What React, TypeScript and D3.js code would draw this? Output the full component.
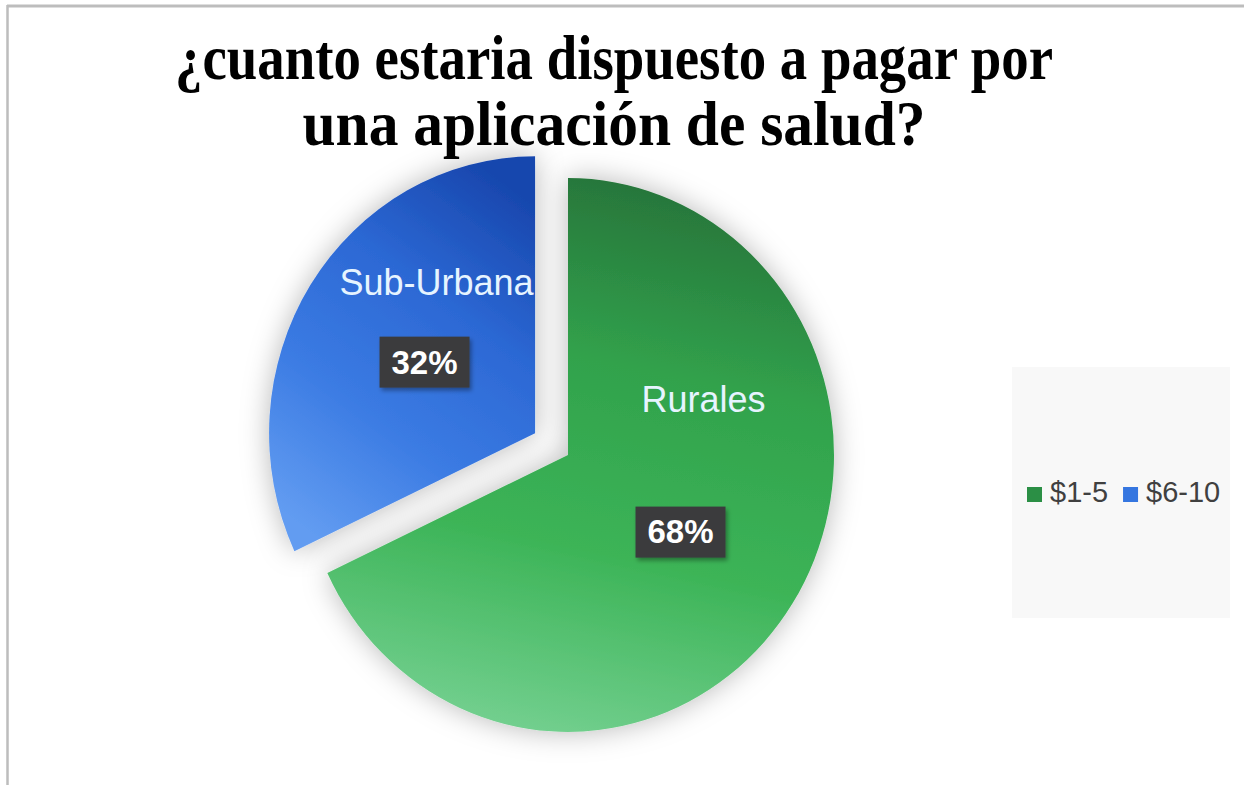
import { useRef, useEffect } from "react";
import * as d3 from "d3";

// chart data
const categories = ["$1-5", "$6-10"];
const values = [68, 32];
const sliceNames = ["Rurales", "Sub-Urbana"];
const titleLines = ["¿cuanto estaria dispuesto a pagar por", "una aplicación de salud?"];

const W = 1244;
const H = 785;

export default function App() {
  const svgRef = useRef<SVGSVGElement>(null);

  useEffect(() => {
    if (!svgRef.current) return;
    const svg = d3.select(svgRef.current);
    svg.selectAll("*").remove();

    const defs = svg.append("defs");

    // gradients per slice
    const grads = [
      { id: "g-green", x1: 0.62, y1: 0, x2: 0.42, y2: 1, stops: ["#27743a", "#31a24c", "#3cb457", "#72cf8e"] },
      { id: "g-blue", x1: 0.75, y1: 0, x2: 0.25, y2: 1, stops: ["#1847ae", "#2c68d4", "#3b7be3", "#629cf1"] },
    ];
    grads.forEach((g) => {
      const lg = defs
        .append("linearGradient")
        .attr("id", g.id)
        .attr("x1", g.x1)
        .attr("y1", g.y1)
        .attr("x2", g.x2)
        .attr("y2", g.y2);
      g.stops.forEach((c, i) =>
        lg.append("stop").attr("offset", i / (g.stops.length - 1)).attr("stop-color", c)
      );
    });

    // soft shadow around the slices
    const f = defs
      .append("filter")
      .attr("id", "soft")
      .attr("x", "-25%")
      .attr("y", "-25%")
      .attr("width", "150%")
      .attr("height", "150%");
    f.append("feGaussianBlur").attr("in", "SourceAlpha").attr("stdDeviation", 14).attr("result", "b");
    f.append("feFlood").attr("flood-color", "#000").attr("flood-opacity", 0.28);
    f.append("feComposite").attr("in2", "b").attr("operator", "in").attr("result", "s");
    const m = f.append("feMerge");
    m.append("feMergeNode").attr("in", "s");
    m.append("feMergeNode").attr("in", "SourceGraphic");

    const fBox = defs.append("filter").attr("id", "boxsh").attr("x", "-20%").attr("y", "-20%").attr("width", "150%").attr("height", "160%");
    fBox.append("feDropShadow").attr("dx", 2).attr("dy", 3).attr("stdDeviation", 2).attr("flood-color", "#000").attr("flood-opacity", 0.35);

    // frame
    svg.append("rect").attr("width", W).attr("height", H).attr("fill", "#fff");
    svg.append("line").attr("x1", 7).attr("x2", W).attr("y1", 6).attr("y2", 6).attr("stroke", "#bdbdbd").attr("stroke-width", 3);
    svg.append("line").attr("x1", 7.5).attr("x2", 7.5).attr("y1", 5).attr("y2", H).attr("stroke", "#bdbdbd").attr("stroke-width", 2.5);

    // title
    const titleWidths = [878, 623];
    svg
      .selectAll("text.title")
      .data(titleLines)
      .join("text")
      .attr("class", "title")
      .attr("x", 614)
      .attr("y", (_, i) => 79 + i * 66)
      .attr("text-anchor", "middle")
      .attr("font-family", "'Liberation Serif', 'Times New Roman', serif")
      .attr("font-weight", "bold")
      .attr("font-size", 64)
      .attr("textLength", (_, i) => titleWidths[i])
      .attr("lengthAdjust", "spacingAndGlyphs")
      .attr("fill", "#000")
      .text((d) => d);

    // pie
    const cx = 568;
    const cy = 455;
    const r = 266;
    const yStretch = 1.041;
    const explode = [0, 39];
    const fills = ["url(#g-green)", "url(#g-blue)"];

    const pie = d3.pie<number>().sort(null).value((d) => d);
    const arcs = pie(values);
    const arc = d3.arc<d3.PieArcDatum<number>>().innerRadius(0).outerRadius(r);
    const labelArc = d3.arc<d3.PieArcDatum<number>>().innerRadius(r * 0.55).outerRadius(r * 0.55);

    const offset = (d: d3.PieArcDatum<number>, i: number) => {
      const mid = (d.startAngle + d.endAngle) / 2;
      return [explode[i] * Math.sin(mid), -explode[i] * Math.cos(mid) * yStretch];
    };

    svg
      .selectAll("g.slice")
      .data(arcs)
      .join("g")
      .attr("class", "slice")
      .attr("filter", "url(#soft)")
      .attr("transform", (d, i) => {
        const [ox, oy] = offset(d, i);
        return `translate(${cx + ox},${cy + oy}) scale(1,${yStretch})`;
      })
      .append("path")
      .attr("d", arc)
      .attr("fill", (_, i) => fills[i]);

    // labels
    const valueNudge = [[-11, -5], [13, 10]];
    const nameNudge = [[23, -133], [12, -80]];
    arcs.forEach((d, i) => {
      const [ox, oy] = offset(d, i);
      const [lx, ly] = labelArc.centroid(d);
      const vx = cx + ox + lx + valueNudge[i][0];
      const vy = cy + oy + ly * yStretch + valueNudge[i][1];

      svg
        .append("text")
        .attr("x", vx + nameNudge[i][0])
        .attr("y", vy + nameNudge[i][1])
        .attr("dy", "0.36em")
        .attr("text-anchor", "middle")
        .attr("font-family", "'Liberation Sans', Arial, sans-serif")
        .attr("font-size", 36)
        .attr("fill", "#e6f4ff")
        .text(sliceNames[i]);

      svg
        .append("rect")
        .attr("x", vx - 45)
        .attr("y", vy - 25)
        .attr("width", 90)
        .attr("height", 51)
        .attr("fill", "#3b3b3d")
        .attr("filter", "url(#boxsh)");

      svg
        .append("text")
        .attr("x", vx)
        .attr("y", vy)
        .attr("dy", "0.36em")
        .attr("text-anchor", "middle")
        .attr("font-family", "'Liberation Sans', Arial, sans-serif")
        .attr("font-weight", "bold")
        .attr("font-size", 33)
        .attr("fill", "#fff")
        .text(`${d.data}%`);
    });

    // legend
    svg.append("rect").attr("x", 1012).attr("y", 367).attr("width", 218).attr("height", 251).attr("fill", "#f8f8f8");
    const swatch = ["#2b8f45", "#3576e0"];
    let lx = 1027;
    categories.forEach((c, i) => {
      const g = svg.append("g").attr("transform", `translate(${lx},487)`);
      g.append("rect").attr("width", 15).attr("height", 15).attr("fill", swatch[i]);
      const t = g
        .append("text")
        .attr("x", 23)
        .attr("y", 15)
        .attr("font-family", "'Liberation Sans', Arial, sans-serif")
        .attr("font-size", 29)
        .attr("fill", "#404040")
        .text(c);
      const tw = (t.node() as SVGTextElement).getComputedTextLength();
      lx += 23 + tw + 15;
    });

    return () => {
      svg.selectAll("*").remove();
    };
  }, []);

  return (
    <div style={{ position: "absolute", left: 0, top: 0 }}>
      <svg ref={svgRef} width={W} height={H} style={{ display: "block" }} />
    </div>
  );
}
